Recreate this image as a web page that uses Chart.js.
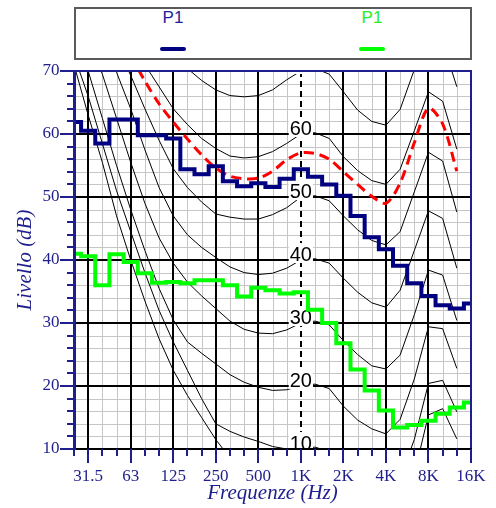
<!DOCTYPE html>
<html><head><meta charset="utf-8">
<script src="https://cdn.jsdelivr.net/npm/chart.js@4.4.0/dist/chart.umd.min.js"></script>
<style>
html,body{margin:0;padding:0;background:#fff;}
#wrap{position:relative;width:496px;height:508px;overflow:hidden;}
canvas{position:absolute;left:0;top:0;}
#legend{position:absolute;left:74px;top:7px;width:394px;height:49px;border:2px solid #5a5a5a;background:#fff;}
.item{position:absolute;top:0;width:80px;height:49px;}
.lab{position:absolute;left:0;top:-1px;width:80px;text-align:center;font:17px "Liberation Sans",Arial,sans-serif;line-height:20px;}
.sw{position:absolute;top:38px;left:27px;width:26px;height:4px;border-radius:2px;}
</style></head><body>
<div id="wrap"><canvas id="c" width="496" height="508"></canvas><div id="legend"></div></div>
<script>
// ---- data ----
const bands = ['25','31.5','40','50','63','80','100','125','160','200','250','315','400','500','630','800','1K','1.25K','1.6K','2K','2.5K','3.15K','4K','5K','6.3K','8K','10K','12.5K','16K'];
const octaveLabels = ['31.5','63','125','250','500','1K','2K','4K','8K','16K'];
const dbTicks = [10,20,30,40,50,60,70];
const seriesNames = ['P1','P1'];
const p1Blue  = [61.9,60.5,58.5,62.3,62.3,59.8,59.8,59.3,54.4,53.6,54.9,52.5,51.7,52.2,51.6,52.9,54.4,53.2,52.0,50.2,47.0,43.6,41.7,39.1,36.3,34.3,32.8,32.3,33.1];
const p1Green = [41.0,40.6,36.0,40.9,39.7,37.9,36.4,36.5,36.3,36.8,36.8,36.0,34.2,35.6,35.2,34.7,34.9,32.1,30.0,26.8,22.6,19.3,16.1,13.4,13.8,14.5,15.6,16.6,17.4];
const redContour = [null,null,null,null,72.5,68.4,64.8,61.9,59.2,56.7,54.6,53.3,52.9,53.0,54.1,55.9,57.0,56.9,56.0,54.0,52.0,50.1,49.0,52.2,58.6,64.1,61.6,54.1];
const phonLevels = [10,20,30,40,50,60,70];
const thresholdCurve = [71,63,55.5,47,40,33.5,27.5,22.5,18.5,15,11.5,8.6,6.2,4.4,3.0,2.2,2.4,3.5,1.7,-1.3,-4.2,-6.0,-5.4,-1.5,6.0,15.4,16.4,11.6];
const contour10 = [72.5,66,58.5,51,44.5,38,32,27,22.5,18,14,12.8,11.9,11.2,10.4,10.0,10,10.3,9.6,7.3,5.0,3.6,3.0,5.3,11.5,20.4,20.9,15.9];
const contour20 = [76,70,62.5,55,48,41.5,35.5,30.5,27,25.2,23.5,21.8,20.6,19.8,19.3,19.4,20,20.3,19.6,16.8,14.6,13.2,12.4,14.7,21.1,29.4,29.1,22.8];
const contour30 = [79,75,69.5,62.5,55.5,49,43.5,39.5,36.5,34.3,32.3,30.3,29.0,28.4,28.3,28.9,30,30.3,29.7,27.2,25.0,23.2,22.7,24.9,31.3,38.4,37.6,30.4];
const contour40 = [82,78,74,69.8,64,57.5,51.5,47,44,42,40.4,38.9,38.0,37.7,37.9,38.7,40,40.2,39.5,37.1,34.9,33.2,32.5,35.2,41.5,47.8,46.6,38.7];
const contour50 = [86,82,78,74,69.3,64,59,54.5,51.5,49.2,47.3,46.8,46.5,46.5,47.2,48.3,50,50.2,49.4,47.0,44.8,43.1,42.4,44.5,50.8,57.1,55.7,47.6];
const contour60 = [90,86.5,83,79,75,71,67.5,64,61.5,59.3,57.7,56.5,56.2,56.4,57.2,58.5,60,60.2,59.3,56.4,54.2,52.6,52.0,54.4,60.5,66.7,65.2,57.6];
const contour70 = [95,91.5,88,84.5,81,77.5,74.5,72,70.4,68.5,67.0,66.1,65.9,66.1,67.0,68.6,70,70.4,69.5,66.7,63.8,62.0,61.4,63.9,70.2,76.2,74.6,67.5];
const contours = [contour10,contour20,contour30,contour40,contour50,contour60,contour70];

// ---- colours ----
const NAVY = '#1e1e8c';
const colBlue = '#000080', colGreen = '#00ff00', colRed = '#ff0000';

// ---- legend (HTML) ----
const legendColors = [colBlue, colGreen];
const legendText = ['#1f1f9a', '#22ee22'];
const legendX = [97, 296];
const lg = document.getElementById('legend');
seriesNames.forEach((n,i)=>{
  const d = document.createElement('div'); d.className='item'; d.style.left=(legendX[i]-40)+'px';
  d.innerHTML = '<div class="lab" style="color:'+legendText[i]+'">'+n+'</div><div class="sw" style="background:'+legendColors[i]+'"></div>';
  lg.appendChild(d);
});

const toXY = arr => arr.map((v,i)=> v==null?null:{x:i,y:v}).filter(p=>p);
const isOct = i => octaveLabels.includes(bands[i]);
const idx1k = bands.indexOf('1K');

const datasets = [
  {label:'P1 green', data:toXY(p1Green), borderColor:colGreen, borderWidth:4, stepped:'middle', pointRadius:0, order:1},
  {label:'P1 blue', data:toXY(p1Blue), borderColor:colBlue, borderWidth:4, stepped:'middle', pointRadius:0, order:2},
  {label:'contour', data:toXY(redContour), borderColor:colRed, borderWidth:3, borderDash:[10,6], tension:0.3, pointRadius:0, order:3},
  {label:'threshold', data:toXY(thresholdCurve), borderColor:'#000', borderWidth:1, pointRadius:0, order:10}
];
contours.forEach((c,k)=>datasets.push({label:phonLevels[k]+' phon', data:toXY(c), borderColor:'#000', borderWidth:1, pointRadius:0, order:10}));

const framePlugin = {
  id:'frame',
  beforeDatasetsDraw(chart){
    const {ctx, chartArea:a, scales:{x,y}} = chart;
    ctx.save();
    ctx.lineWidth = 1; ctx.strokeStyle = '#c6c6c6';
    ctx.beginPath();
    for (let i=0;i<bands.length;i++){ if (isOct(i)) continue; const p=Math.round(x.getPixelForValue(i))+0.5; ctx.moveTo(p,a.top); ctx.lineTo(p,a.bottom); }
    for (let v=12; v<70; v+=2){ if (v%10===0) continue; const p=Math.round(y.getPixelForValue(v))+0.5; ctx.moveTo(a.left,p); ctx.lineTo(a.right,p); }
    ctx.stroke();
    ctx.lineWidth = 2; ctx.strokeStyle = '#000';
    ctx.beginPath();
    for (let i=0;i<bands.length;i++){ if (!isOct(i) || i===idx1k) continue; const p=Math.round(x.getPixelForValue(i)); ctx.moveTo(p,a.top); ctx.lineTo(p,a.bottom); }
    dbTicks.forEach(v=>{ const p=Math.round(y.getPixelForValue(v)); ctx.moveTo(a.left,p); ctx.lineTo(a.right,p); });
    ctx.stroke();
    ctx.setLineDash([6,4]);
    ctx.beginPath();
    const p1=Math.round(x.getPixelForValue(idx1k)); ctx.moveTo(p1,a.top); ctx.lineTo(p1,a.bottom);
    ctx.stroke();
    ctx.restore();
  },
  beforeDatasetDraw(chart, args){
    if (chart.data.datasets[args.index].order !== 3) return;
    const {ctx, chartArea:a, scales:{x,y}} = chart;
    ctx.save();
    ctx.beginPath(); ctx.rect(a.left,a.top,a.right-a.left,a.bottom-a.top); ctx.clip();
    ctx.font = '20px "Liberation Sans", Arial, sans-serif';
    ctx.textAlign = 'center'; ctx.textBaseline = 'alphabetic';
    const px = x.getPixelForValue(idx1k);
    phonLevels.forEach(ph=>{
      const py = y.getPixelForValue(ph);
      const t = String(ph); const w = ctx.measureText(t).width;
      ctx.fillStyle = '#fff';
      ctx.fillRect(px-w/2-1, py-17, w+2, 20);
      ctx.fillStyle = '#000';
      ctx.fillText(t, px, py+0.5);
    });
    ctx.restore();
  },
  afterDatasetsDraw(chart){
    const {ctx, chartArea:a, scales:{x,y}} = chart;
    ctx.save();
    ctx.strokeStyle = NAVY;
    ctx.lineWidth = 2;
    ctx.beginPath();
    ctx.moveTo(a.left, a.top); ctx.lineTo(a.right, a.top); ctx.lineTo(a.right, a.bottom);
    ctx.stroke();
    ctx.strokeStyle = '#000';
    ctx.beginPath(); ctx.moveTo(a.left, a.bottom); ctx.lineTo(a.right+1, a.bottom); ctx.stroke();
    ctx.strokeStyle = NAVY; ctx.lineWidth = 3;
    ctx.beginPath(); ctx.moveTo(a.left+0.5, a.top-1); ctx.lineTo(a.left+0.5, a.bottom+1); ctx.stroke();
    ctx.lineWidth = 2;
    ctx.beginPath();
    for (let i=0;i<bands.length;i++){ const p=Math.round(x.getPixelForValue(i)); ctx.moveTo(p,a.bottom); ctx.lineTo(p,a.bottom+(isOct(i)?14:7)); }
    for (let v=10; v<=70; v+=2){ const p=Math.round(y.getPixelForValue(v)); ctx.moveTo(a.left,p); ctx.lineTo(a.left-(v%10===0?14:7),p); }
    ctx.stroke();
    ctx.restore();
  }
};

const serif = "'Liberation Serif','Times New Roman',serif";
new Chart(document.getElementById('c'), {
  type:'line',
  data:{datasets},
  options:{
    responsive:false, animation:false, devicePixelRatio:1,
    layout:{padding:{left:0, top:71, right:25, bottom:0}},
    plugins:{legend:{display:false}, tooltip:{enabled:false}},
    scales:{
      x:{type:'linear', min:0, max:bands.length-1,
         grid:{display:false, drawTicks:true, tickLength:17}, border:{display:false},
         ticks:{stepSize:1, autoSkip:false, maxRotation:0, padding:0, color:NAVY,
                font:{family:serif, size:17},
                callback:(v)=> isOct(v) ? bands[v] : ''},
         title:{display:true, text:'Frequenze (Hz)', color:NAVY, padding:{top:0,bottom:2},
                font:{family:serif, size:21, style:'italic'}},
         afterFit:s=>{ s.height = 59; }},
      y:{min:10, max:70,
         grid:{display:false, drawTicks:false}, border:{display:false},
         ticks:{stepSize:10, padding:14.5, color:NAVY, font:{family:serif, size:17},
                callback:(v)=> dbTicks.includes(v) ? String(v) : ''},
         title:{display:true, text:'Livello (dB)', color:NAVY, padding:{top:13,bottom:0},
                font:{family:serif, size:21, style:'italic'}},
         afterFit:s=>{ s.width = 74; }}
    }
  },
  plugins:[framePlugin]
});
</script>
</body></html>
